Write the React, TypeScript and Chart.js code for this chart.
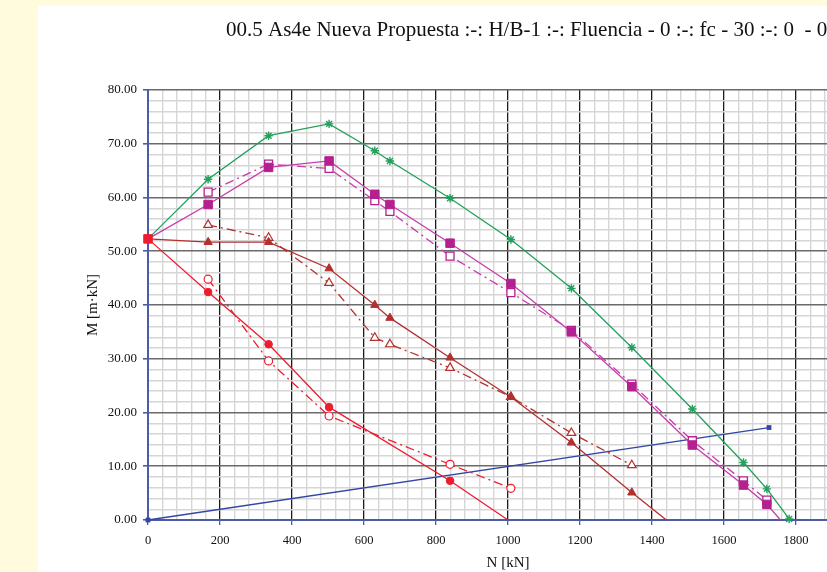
import React, { useEffect, useRef } from 'react';
import { Chart, registerables } from 'chart.js';

Chart.register(...registerables);

const TITLE = '00.5 As4e Nueva Propuesta :-: H/B-1 :-: Fluencia - 0 :-: fc - 30 :-: 0  - 0';
const X_TITLE = 'N [kN]';
const Y_TITLE = 'M [m·kN]';

const X_MIN = 0;
const X_MAX = 2000;
const X_MINOR = 40;
const X_MAJOR = 200;
const Y_MIN = 0;
const Y_MAX = 80;
const Y_MINOR = 2;
const Y_MAJOR = 10;

// green, x-star markers
const N_GREEN = [0, 167, 335, 503, 630, 672, 839, 1008, 1176, 1344, 1512, 1654, 1719, 1781];
const M_GREEN = [52.3, 63.4, 71.5, 73.7, 68.7, 66.8, 59.85, 52.2, 43.1, 32.1, 20.65, 10.7, 5.8, 0.2];

// magenta, filled squares, solid
const N_MAG = [0, 167, 335, 503, 630, 672, 839, 1008, 1176, 1344, 1512, 1654, 1719, 1757];
const M_MAG = [52.3, 58.7, 65.6, 66.8, 60.6, 58.7, 51.5, 44.0, 35.0, 24.8, 13.95, 6.5, 2.9, 0];

// magenta, open squares, dash-dot
const N_MAG_O = [167, 335, 503, 630, 672, 839, 1008, 1176, 1344, 1512, 1654, 1719];
const M_MAG_O = [61.0, 66.2, 65.4, 59.4, 57.4, 49.1, 42.3, 35.3, 25.3, 14.75, 7.3, 3.7];

// dark red, filled triangles, solid
const N_DRED = [0, 167, 335, 503, 630, 672, 839, 1008, 1176, 1344, 1440];
const M_DRED = [52.3, 51.7, 51.7, 46.8, 40.0, 37.6, 30.2, 22.9, 14.4, 5.1, 0];

// dark red, open triangles, dash-dot
const N_DRED_O = [167, 335, 503, 630, 672, 839, 1008, 1176, 1344];
const M_DRED_O = [54.9, 52.5, 44.1, 33.9, 32.7, 28.3, 22.9, 16.2, 10.2];

// red, filled circles, solid
const N_RED = [0, 167, 335, 503, 839, 1000];
const M_RED = [52.3, 42.4, 32.7, 21.0, 7.3, 0];

// red, open circles, dash-dot
const N_RED_O = [167, 335, 503, 839, 1008];
const M_RED_O = [44.8, 29.6, 19.35, 10.35, 5.9];

// blue reference line
const N_BLUE = [0, 1725];
const M_BLUE = [0, 17.2];

const GREEN = '#22a05c';
const MAGENTA_LINE = '#c63cab';
const MAGENTA_MARK = '#b4208f';
const DARK_RED = '#b3302f';
const RED = '#ee1c2e';
const BLUE = '#3346a5';
const AXIS_BLUE = '#4d5ca8';
const DASH_DOT = [9, 4, 2, 4];
const SERIF = '"Liberation Serif", "Times New Roman", serif';

const pts = (xs: number[], ys: number[]) => xs.map((x, i) => ({ x, y: ys[i] }));

const titlePlugin = {
  id: 'customTitle',
  afterDraw(chart: any) {
    const ctx = chart.ctx;
    ctx.save();
    ctx.font = `21px ${SERIF}`;
    ctx.fillStyle = '#111';
    ctx.textAlign = 'left';
    ctx.textBaseline = 'alphabetic';
    ctx.fillText(TITLE, 226, 36);
    ctx.restore();
  },
};

export default function App() {
  const ref = useRef<HTMLCanvasElement>(null);

  useEffect(() => {
    if (!ref.current) return;
    const base = {
      showLine: true,
      tension: 0,
      borderWidth: 1.3,
      clip: false as any,
      pointHoverRadius: 0,
    };
    const chart = new Chart(ref.current, {
      type: 'scatter',
      data: {
        datasets: [
          {
            ...base,
            data: pts(N_RED, M_RED),
            borderColor: RED,
            backgroundColor: RED,
            pointStyle: N_RED.map((_, i) => (i === 0 ? 'rect' : 'circle')) as any,
            pointRadius: N_RED.map((_, i) => (i === 0 ? 6 : i === N_RED.length - 1 ? 0 : 3.8)),
            pointBorderWidth: 1,
          },
          {
            ...base,
            data: pts(N_RED_O, M_RED_O),
            borderColor: RED,
            borderDash: DASH_DOT,
            pointStyle: 'circle',
            pointRadius: 4,
            pointBackgroundColor: '#ffffff',
            pointBorderColor: RED,
            pointBorderWidth: 1.2,
          },
          {
            ...base,
            data: pts(N_DRED, M_DRED),
            borderColor: DARK_RED,
            backgroundColor: DARK_RED,
            pointStyle: 'triangle',
            pointRadius: N_DRED.map((_, i) => (i === 0 || i === N_DRED.length - 1 ? 0 : 4.8)),
            pointBorderWidth: 1,
          },
          {
            ...base,
            data: pts(N_DRED_O, M_DRED_O),
            borderColor: DARK_RED,
            borderDash: DASH_DOT,
            pointStyle: 'triangle',
            pointRadius: 5,
            pointBackgroundColor: '#ffffff',
            pointBorderColor: DARK_RED,
            pointBorderWidth: 1.2,
          },
          {
            ...base,
            data: pts(N_MAG, M_MAG),
            borderColor: MAGENTA_LINE,
            backgroundColor: MAGENTA_MARK,
            pointStyle: 'rect',
            pointRadius: N_MAG.map((_, i) => (i === 0 || i === N_MAG.length - 1 ? 0 : 6)),
            pointBorderColor: MAGENTA_MARK,
            pointBorderWidth: 1,
          },
          {
            ...base,
            data: pts(N_MAG_O, M_MAG_O),
            borderColor: MAGENTA_LINE,
            borderDash: DASH_DOT,
            pointStyle: 'rect',
            pointRadius: 5.6,
            pointBackgroundColor: '#ffffff',
            pointBorderColor: MAGENTA_MARK,
            pointBorderWidth: 1.3,
          },
          {
            ...base,
            data: pts(N_GREEN, M_GREEN),
            borderColor: GREEN,
            backgroundColor: GREEN,
            pointStyle: 'star',
            pointRadius: N_GREEN.map((_, i) => (i === 0 ? 0 : 4.2)),
            pointBorderColor: GREEN,
            pointBorderWidth: 1.4,
          },
          {
            ...base,
            data: pts(N_BLUE, M_BLUE),
            borderColor: BLUE,
            backgroundColor: BLUE,
            pointStyle: 'rect',
            pointRadius: 3.4,
            pointBorderWidth: 0,
          },
        ],
      },
      options: {
        responsive: false,
        animation: false,
        events: [],
        layout: { padding: { left: 0, top: 90, right: 82, bottom: 0 } },
        plugins: {
          legend: { display: false },
          tooltip: { enabled: false },
          title: { display: false },
        },
        scales: {
          x: {
            type: 'linear',
            min: X_MIN,
            max: X_MAX,
            afterFit: (s: any) => {
              s.height = 52;
            },
            border: { color: AXIS_BLUE, width: 2 },
            grid: {
              color: (c: any) =>
                Math.abs(c.tick.value % X_MAJOR) < 1e-6 ? '#1c1c1c' : '#d6d6d6',
              lineWidth: (c: any) => (Math.abs(c.tick.value % X_MAJOR) < 1e-6 ? 1.3 : 1.4),
              tickColor: (c: any) =>
                Math.abs(c.tick.value % X_MAJOR) < 1e-6 ? AXIS_BLUE : 'rgba(0,0,0,0)',
              tickLength: 5,
            },
            ticks: {
              stepSize: X_MINOR,
              autoSkip: false,
              maxRotation: 0,
              padding: 8,
              color: '#111',
              font: { family: SERIF, size: 12.5 },
              callback: (v: any) => (Math.abs(Number(v) % X_MAJOR) < 1e-6 ? String(v) : ''),
            },
            title: {
              display: true,
              text: X_TITLE,
              color: '#111',
              font: { family: SERIF, size: 15 },
              padding: { top: 0, bottom: 0 },
            },
          },
          y: {
            type: 'linear',
            min: Y_MIN,
            max: Y_MAX,
            afterFit: (s: any) => {
              s.width = 148;
            },
            border: { color: AXIS_BLUE, width: 2 },
            grid: {
              color: (c: any) =>
                Math.abs(c.tick.value % Y_MAJOR) < 1e-6 ? '#6a6a6a' : '#d6d6d6',
              lineWidth: (c: any) => (Math.abs(c.tick.value % Y_MAJOR) < 1e-6 ? 1.6 : 1.4),
              tickColor: (c: any) =>
                Math.abs(c.tick.value % Y_MAJOR) < 1e-6 ? AXIS_BLUE : 'rgba(0,0,0,0)',
              tickLength: 5,
            },
            ticks: {
              stepSize: Y_MINOR,
              autoSkip: false,
              padding: 6,
              color: '#111',
              font: { family: SERIF, size: 13 },
              callback: (v: any) =>
                Math.abs(Number(v) % Y_MAJOR) < 1e-6 ? Number(v).toFixed(2) : '',
            },
            title: {
              display: true,
              text: Y_TITLE,
              color: '#111',
              font: { family: SERIF, size: 15 },
              padding: { top: 84, bottom: 0 },
            },
          },
        },
      },
      plugins: [titlePlugin],
    });
    return () => chart.destroy();
  }, []);

  return (
    <div
      style={{
        position: 'fixed',
        left: 0,
        top: 0,
        width: 827,
        height: 572,
        overflow: 'hidden',
        background: '#fffbdc',
      }}
    >
      <div
        style={{
          position: 'absolute',
          left: 38,
          top: 6,
          width: 1000,
          height: 700,
          background: '#ffffff',
        }}
      />
      <canvas
        ref={ref}
        width={950}
        height={572}
        style={{ position: 'absolute', left: 0, top: 0, width: 950, height: 572 }}
      />
    </div>
  );
}
